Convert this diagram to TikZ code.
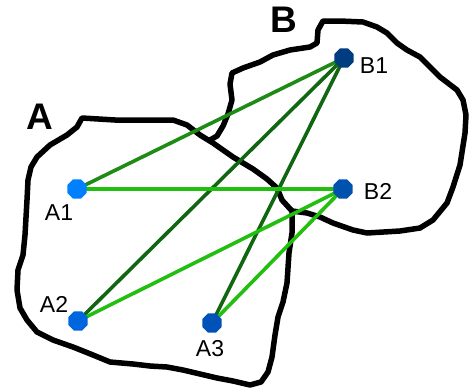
\documentclass[tikz,border=0pt]{standalone}
\usepackage{fontspec}
\setmainfont{Liberation Sans}
\usetikzlibrary{shapes.geometric,backgrounds}
\definecolor{cA1}{HTML}{0080FF}
\definecolor{cA2}{HTML}{0066DD}
\definecolor{cA3}{HTML}{0052B8}
\definecolor{cB1}{HTML}{003C80}
\definecolor{cB2}{HTML}{0052AE}
\definecolor{gmed}{HTML}{1E8C14}
\definecolor{gdark}{HTML}{116611}
\definecolor{gbright}{HTML}{22BE10}
\tikzset{
  pt/.style={regular polygon, regular polygon sides=8, minimum size=21pt, inner sep=0pt, draw=none},
  lbl/.style={font=\fontsize{23}{23}\selectfont, inner sep=0pt},
  big/.style={font=\fontsize{37}{37}\selectfont\bfseries, inner sep=0pt},
  blob/.style={line width=5.5pt, line join=round, line cap=round, black},
  edge/.style={line width=3.6pt}
}
\begin{document}
\begin{tikzpicture}[x=1pt,y=-1pt]
\useasboundingbox (0,0) rectangle (471,389);
\node[pt, fill=cA1] (A1) at (77,189) {};
\node[pt, fill=cA2] (A2) at (78,321) {};
\node[pt, fill=cA3] (A3) at (212,323) {};
\node[pt, fill=cB1] (B1) at (344,58) {};
\node[pt, fill=cB2] (B2) at (343,189) {};
\node[lbl] (lA1) at (59,213) {A1};
\node[lbl] (lA2) at (54,304) {A2};
\node[lbl] (lA3) at (210,349) {A3};
\node[lbl] (lB1) at (374,66) {B1};
\node[lbl] (lB2) at (378,191) {B2};
\node[big] (tA) at (40,117) {A};
\node[big] (tB) at (284,20) {B};
\begin{scope}[on background layer]
\draw[blob] (82,118) -- (115,120) -- (150,120) -- (173,120) -- (187,125) -- (200,135) -- (213,143) -- (233,157) -- (253,169) -- (267,179) -- (277,188) -- (282,200) -- (292,211)
  -- (292,233) -- (289,253) -- (287,283) -- (283,302) -- (278,317) -- (275,335) -- (272,357) -- (268,372) -- (261,382) -- (250,385) -- (233,381) -- (217,378) -- (200,374) -- (183,370) -- (167,367) -- (150,366) -- (133,364) -- (110,362) -- (93,355) -- (73,347) -- (53,340) -- (37,332) -- (27,320) -- (20,308) -- (17,290) -- (18,270) -- (23,255) -- (25,235) -- (27,200) -- (28,180) -- (31,167) -- (37,157) -- (50,145) -- (67,135) -- (77,127) -- cycle;
\draw[blob] (210,140) -- (217,136) -- (223,126) -- (228,114) -- (232,100) -- (230,84) -- (232,73) -- (243,68) -- (260,62) -- (273,55) -- (290,50) -- (310,47) -- (317,43) -- (318,30) -- (323,21) -- (340,21) -- (363,22) -- (377,27) -- (387,33) -- (397,43) -- (407,50) -- (420,57) -- (430,67) -- (440,77) -- (457,90) -- (463,100) -- (466,115) -- (465,133) -- (460,165) -- (453,187) -- (447,203) -- (433,220) -- (420,228) -- (400,231) -- (367,233) -- (353,230) -- (333,223) -- (320,217) -- (307,213) -- (292,211);
\draw[edge, gmed] (A1.center) -- (B1.center);
\draw[edge, gdark] (A2.center) -- (B1.center);
\draw[edge, gdark] (A3.center) -- (B1.center);
\draw[edge, gbright] (A1.center) -- (B2.center);
\draw[edge, gbright] (A2.center) -- (B2.center);
\draw[edge, gbright] (A3.center) -- (B2.center);
\end{scope}
\end{tikzpicture}
\end{document}
